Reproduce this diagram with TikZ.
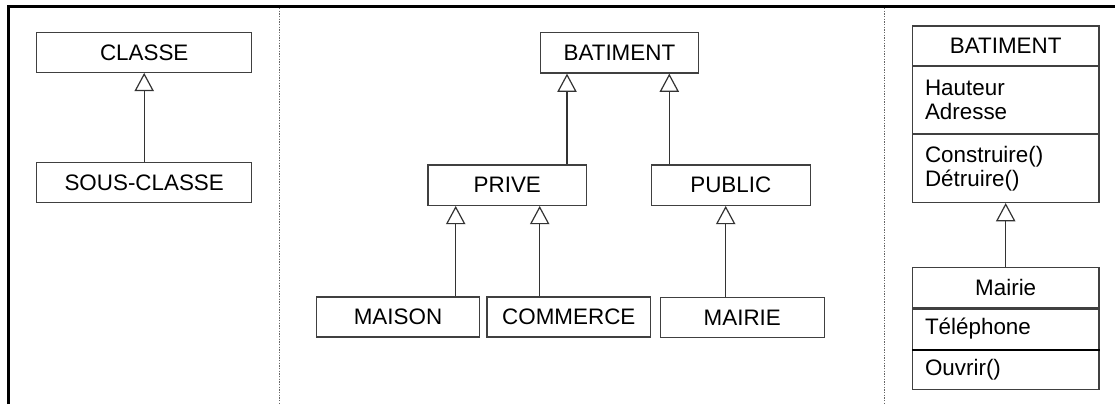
\documentclass[tikz,border=0pt]{standalone}
\usepackage{fontspec}
\setmainfont{Liberation Sans}
\usetikzlibrary{arrows.meta}
\begin{document}
\begin{tikzpicture}[x=0.75pt,y=-0.75pt,
  font=\fontsize{16.8pt}{17.8pt}\selectfont,
  box/.style={draw=black!75, line width=0.9pt, inner sep=0pt, fill=white},
  cbox/.style={box, text width=121pt, inner xsep=9.5pt, align=left},
  inh/.style={draw=black!80, line width=0.9pt, -{Triangle[length=13.7pt,width=14.5pt,fill=white]}},
  sepline/.style={draw=black!60, line width=0.75pt, dash pattern=on 1pt off 1pt}]
\useasboundingbox (0,0) rectangle (1115,404);
% frame
\coordinate (fbl) at (8.7,404);
\coordinate (ftl) at (8.7,6.5);
\coordinate (ftr) at (1115,6.5);
\draw[line width=2.3pt] (fbl) -- (ftl) -- (ftr);
% separators
\coordinate (s1t) at (279,8);
\coordinate (s1b) at (279,404);
\coordinate (s2t) at (884,8);
\coordinate (s2b) at (884,404);
\draw[sepline] (s1t) -- (s1b);
\draw[sepline] (s2t) -- (s2b);
% left panel
\node[box, minimum width=161.25pt, minimum height=29.7pt] (classe) at (144.2,52.5) {CLASSE};
\node[box, minimum width=161.25pt, minimum height=29.5pt] (sous) at (144.2,182.5) {SOUS-CLASSE};
\draw[inh] (sous) -- (classe);
% middle panel
\node[box, minimum width=118.35pt, minimum height=30.2pt] (bat) at (619.4,52.9) {BATIMENT};
\node[box, minimum width=119pt, minimum height=30.2pt] (prive) at (507.3,185.2) {PRIVE};
\node[box, minimum width=119.25pt, minimum height=30.2pt] (public) at (730.8,185.2) {PUBLIC};
\node[box, minimum width=122pt, minimum height=30pt] (maison) at (398,317) {MAISON};
\node[box, minimum width=122.8pt, minimum height=30pt] (commerce) at (568.8,317) {COMMERCE};
\node[box, minimum width=123pt, minimum height=29.5pt] (mairie) at (742.3,317.5) {MAIRIE};
\coordinate (xa) at (567,0);
\coordinate (xb) at (669.3,0);
\coordinate (xc) at (455.7,0);
\coordinate (xd) at (539.7,0);
\coordinate (xe) at (725.7,0);
\draw[inh] (prive.north -| xa) -- (bat.south -| xa);
\draw[inh] (public.north -| xb) -- (bat.south -| xb);
\draw[inh] (maison.north -| xc) -- (prive.south -| xc);
\draw[inh] (commerce.north -| xd) -- (prive.south -| xd);
\draw[inh] (mairie.north -| xe) -- (public.south -| xe);
% right panel
\node[box, minimum width=140pt, minimum height=29.5pt] (bt) at (1005.7,45.65) {BATIMENT};
\node[cbox, minimum height=50.25pt, anchor=north] (ba) at (bt.south) {Hauteur\\Adresse};
\node[cbox, minimum height=50.8pt, anchor=north] (bo) at (ba.south) {Construire()\\Détruire()};
\node[box, minimum width=140pt, minimum height=30.3pt] (mt) at (1005.7,287.5) {Mairie};
\node[cbox, minimum height=30.2pt, anchor=north] (ma) at (mt.south) {Téléphone};
\node[cbox, minimum height=29.5pt, anchor=north] (mo) at (ma.south) {Ouvrir()};
\draw[line width=1.5pt] (mo.north west) -- (mo.north east);
\draw[inh] (mt) -- (bo);
\end{tikzpicture}
\end{document}
